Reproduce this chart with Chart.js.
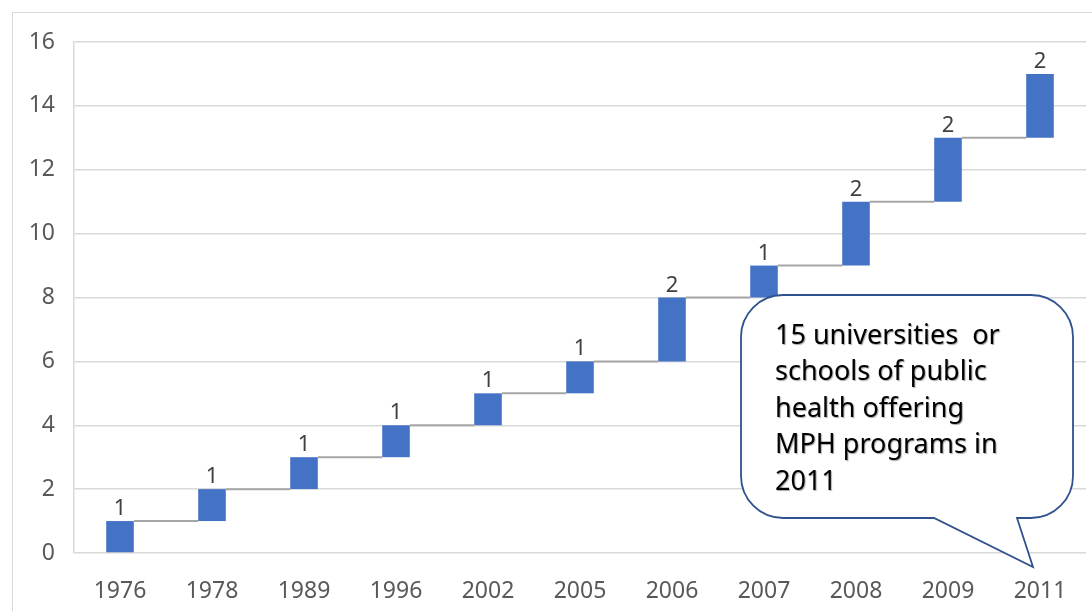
<!DOCTYPE html>
<html>
<head>
<meta charset="utf-8">
<script src="https://cdn.jsdelivr.net/npm/chart.js@4.4.1/dist/chart.umd.min.js"></script>
<style>
    body { margin: 0; background: #fff; overflow: hidden; }
    #wrap { position: relative; width: 1092px; height: 611px; }
    #frame { position: absolute; left: 12px; top: 12px; width: 1200px; height: 700px; border: 1px solid #d9d9d9; }
    #chart { position: absolute; left: 0; top: 0; }
</style>
</head>
<body>
<div id="wrap">
    <div id="frame"></div>
    <canvas id="chart" width="1092" height="611"></canvas>
</div>
<script>
// Years when new MPH programs started and how many were added
const years = ['1976', '1978', '1989', '1996', '2002', '2005', '2006', '2007', '2008', '2009', '2011'];
const added = [1, 1, 1, 1, 1, 1, 2, 1, 2, 2, 2];
const yTicks = [0, 2, 4, 6, 8, 10, 12, 14, 16];
const calloutLines = ['15 universities  or', 'schools of public', 'health offering', 'MPH programs in', '2011'];

// Floating bars: each bar starts where the previous one ended
let running = 0;
const ranges = added.map(v => {
    const start = running;
    running += v;
    return [start, running];
});

const FONT = '"Noto Sans", sans-serif';

// Gray step lines joining the top of one bar to the bottom of the next
const connectorPlugin = {
    id: 'connectors',
    afterDatasetsDraw(chart) {
        const ctx = chart.ctx;
        const meta = chart.getDatasetMeta(0);
        const yScale = chart.scales.y;
        ctx.save();
        ctx.strokeStyle = '#a6a6a6';
        ctx.lineWidth = 2;
        for (let i = 0; i < meta.data.length - 1; i++) {
            const a = meta.data[i];
            const b = meta.data[i + 1];
            const y = yScale.getPixelForValue(ranges[i][1]);
            ctx.beginPath();
            ctx.moveTo(a.x + a.width / 2, y);
            ctx.lineTo(b.x - b.width / 2, y);
            ctx.stroke();
        }
        // value labels above each bar
        ctx.fillStyle = '#404040';
        ctx.font = '22px ' + FONT;
        ctx.textAlign = 'center';
        ctx.textBaseline = 'alphabetic';
        meta.data.forEach((bar, i) => {
            const top = yScale.getPixelForValue(ranges[i][1]);
            ctx.fillText(String(added[i]), bar.x, top - 6);
        });
        ctx.restore();
    }
};

// Speech bubble callout
const calloutPlugin = {
    id: 'callout',
    afterDraw(chart) {
        const ctx = chart.ctx;
        const left = 741, top = 295, right = 1073, bottom = 518, r = 42;
        ctx.save();
        ctx.beginPath();
        ctx.moveTo(left + r, top);
        ctx.lineTo(right - r, top);
        ctx.arcTo(right, top, right, top + r, r);
        ctx.lineTo(right, bottom - r);
        ctx.arcTo(right, bottom, right - r, bottom, r);
        ctx.lineTo(1017, bottom);
        ctx.lineTo(1033, 567);
        ctx.lineTo(934, bottom);
        ctx.lineTo(left + r, bottom);
        ctx.arcTo(left, bottom, left, bottom - r, r);
        ctx.lineTo(left, top + r);
        ctx.arcTo(left, top, left + r, top, r);
        ctx.closePath();
        ctx.fillStyle = '#ffffff';
        ctx.fill();
        ctx.strokeStyle = '#2f528f';
        ctx.lineWidth = 1.8;
        ctx.stroke();

        ctx.fillStyle = '#000000';
        ctx.font = '27px ' + FONT;
        ctx.textAlign = 'left';
        ctx.textBaseline = 'middle';
        ctx.shadowColor = 'rgba(0,0,0,0.35)';
        ctx.shadowOffsetX = 1;
        ctx.shadowOffsetY = 1;
        ctx.shadowBlur = 1;
        calloutLines.forEach((line, i) => {
            ctx.fillText(line, 775, 336 + i * 36.5);
        });
        ctx.restore();
    }
};

new Chart(document.getElementById('chart'), {
    type: 'bar',
    data: {
        labels: years,
        datasets: [{
            data: ranges,
            backgroundColor: '#4472c4',
            borderWidth: 0,
            barPercentage: 0.3,
            categoryPercentage: 1
        }]
    },
    options: {
        responsive: false,
        animation: false,
        layout: { padding: { left: 0, top: 42, right: 6, bottom: 0 } },
        plugins: {
            legend: { display: false },
            tooltip: { enabled: false }
        },
        scales: {
            x: {
                grid: { display: false },
                border: { display: false },
                ticks: {
                    color: '#595959',
                    font: { family: FONT, size: 23 },
                    padding: 17,
                    maxRotation: 0
                },
                afterFit(scale) { scale.height = 58; }
            },
            y: {
                min: 0,
                max: 16,
                afterBuildTicks(scale) {
                    scale.ticks = yTicks.map(v => ({ value: v }));
                },
                grid: { color: '#d9d9d9', lineWidth: 1.5, drawTicks: false },
                border: { display: true, color: '#d9d9d9', width: 1.5 },
                ticks: {
                    color: '#595959',
                    font: { family: FONT, size: 23 },
                    padding: 19
                },
                afterFit(scale) { scale.width = 74; }
            }
        }
    },
    plugins: [connectorPlugin, calloutPlugin]
});
</script>
</body>
</html>
